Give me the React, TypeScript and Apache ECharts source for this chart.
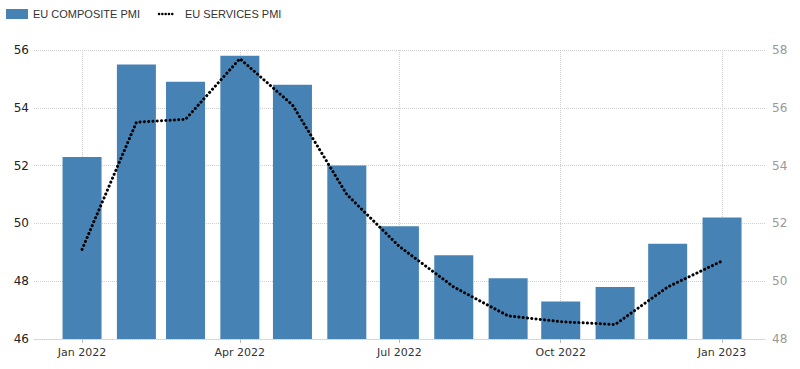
import React, { useEffect, useRef } from "react";
import * as echarts from "echarts";

const months: [number, number][] = [
  [2022, 0], [2022, 1], [2022, 2], [2022, 3], [2022, 4], [2022, 5], [2022, 6],
  [2022, 7], [2022, 8], [2022, 9], [2022, 10], [2022, 11], [2023, 0],
];
const compositePMI = [52.3, 55.5, 54.9, 55.8, 54.8, 52.0, 49.9, 48.9, 48.1, 47.3, 47.8, 49.3, 50.2];
const servicesPMI = [51.1, 55.5, 55.6, 57.7, 56.1, 53.0, 51.2, 49.8, 48.8, 48.6, 48.5, 49.8, 50.7];
const tickMonths: [number, number][] = [[2022, 0], [2022, 3], [2022, 6], [2022, 9], [2023, 0]];
const monthNames = ["Jan", "Feb", "Mar", "Apr", "May", "Jun", "Jul", "Aug", "Sep", "Oct", "Nov", "Dec"];

const ts = (m: [number, number]) => Date.UTC(m[0], m[1], 1);
const DAY = 86400000;

export default function App() {
  const ref = useRef<HTMLDivElement>(null);
  useEffect(() => {
    if (!ref.current) return;
    const chart = echarts.init(ref.current, null, { renderer: "svg" });
    const tickVals = tickMonths.map(ts);
    const gridColor = "#cfcfcf";
    chart.setOption({
      animation: false,
      grid: { left: 34, right: 35, top: 50, bottom: 30, containLabel: false },
      graphic: [
        { type: "rect", shape: { x: 6, y: 9, width: 22, height: 10 }, style: { fill: "#4682b4" } },
        { type: "text", x: 33, y: 14, style: { text: "EU COMPOSITE PMI", fill: "#333", font: "11px 'Liberation Sans', Arial, sans-serif", verticalAlign: "middle" } },
        { type: "line", shape: { x1: 159, y1: 14, x2: 173, y2: 14 }, style: { stroke: "#000", lineWidth: 2.5, lineDash: [0.1, 3.2], lineCap: "round" } },
        { type: "text", x: 185, y: 14, style: { text: "EU SERVICES PMI", fill: "#333", font: "11px 'Liberation Sans', Arial, sans-serif", verticalAlign: "middle" } },
      ],
      xAxis: {
        type: "value",
        min: ts([2022, 0]) - 27.4 * DAY,
        max: ts([2023, 0]) + 24.5 * DAY,
        axisLine: { show: true, lineStyle: { color: gridColor, type: "dotted" } },
        axisTick: { show: true, customValues: tickVals, length: 4, lineStyle: { color: "#bbb" } },
        axisLabel: {
          customValues: tickVals,
          color: "#333",
          fontFamily: "'DejaVu Sans', Verdana, sans-serif",
          fontSize: 11,
          margin: 8,
          formatter: (v: number) => {
            const d = new Date(v);
            return monthNames[d.getUTCMonth()] + " " + d.getUTCFullYear();
          },
        },
        splitLine: { show: true, lineStyle: { color: gridColor, type: "dotted" } },
      },
      yAxis: [
        {
          type: "value", min: 46, max: 56, interval: 2,
          axisLine: { show: false }, axisTick: { show: false },
          axisLabel: { color: "#222", fontFamily: "'DejaVu Sans', Verdana, sans-serif", fontSize: 12, margin: 5 },
          splitLine: { show: true, lineStyle: { color: gridColor, type: "dotted" } },
        },
        {
          type: "value", min: 48, max: 58, interval: 2,
          axisLine: { show: false }, axisTick: { show: false },
          axisLabel: { color: "#999", fontFamily: "'DejaVu Sans', Verdana, sans-serif", fontSize: 12, margin: 7 },
          splitLine: { show: false },
        },
      ],
      series: [
        {
          name: "EU COMPOSITE PMI",
          type: "bar",
          yAxisIndex: 0,
          barWidth: 39,
          itemStyle: { color: "#4682b4" },
          data: months.map((m, i) => [ts(m), compositePMI[i]]),
          z: 2,
        },
        {
          name: "EU SERVICES PMI",
          type: "line",
          yAxisIndex: 1,
          showSymbol: false,
          symbol: "none",
          lineStyle: { color: "#000", width: 3, type: [0.1, 4.2], cap: "round" },
          data: months.map((m, i) => [ts(m), servicesPMI[i]]),
          z: 3,
        },
      ],
    });
    return () => chart.dispose();
  }, []);
  return <div ref={ref} style={{ width: 800, height: 369, position: "absolute", left: 0, top: 0 }} />;
}
